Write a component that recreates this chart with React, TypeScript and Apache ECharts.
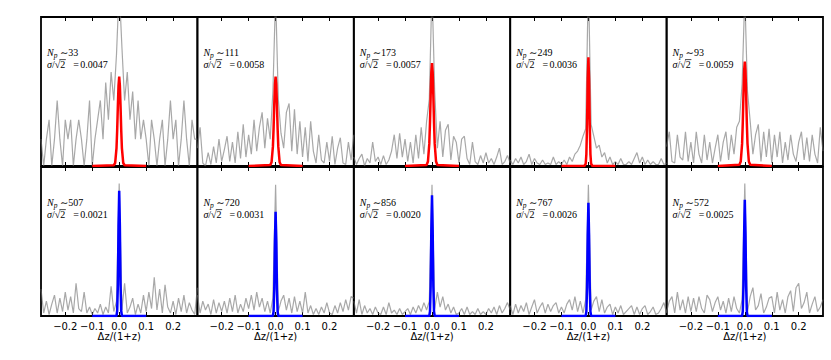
import React, { useEffect, useRef } from "react";
import * as echarts from "echarts";

// bin centres of the histograms (Δz/(1+z))
const BINS = [
  -0.29, -0.28, -0.27, -0.26, -0.25, -0.24, -0.23, -0.22, -0.21, -0.2,
  -0.19, -0.18, -0.17, -0.16, -0.15, -0.14, -0.13, -0.12, -0.11, -0.1,
  -0.09, -0.08, -0.07, -0.06, -0.05, -0.04, -0.03, -0.02, -0.01,
  0,
  0.01, 0.02, 0.03, 0.04, 0.05, 0.06, 0.07, 0.08, 0.09,
  0.1, 0.11, 0.12, 0.13, 0.14, 0.15, 0.16, 0.17, 0.18, 0.19,
  0.2, 0.21, 0.22, 0.23, 0.24, 0.25, 0.26, 0.27, 0.28, 0.29,
];

const TICKS = [-0.2, -0.1, 0, 0.1, 0.2];

// normalised histograms (fraction of panel height)
const GRAY_T1 = [
  0.18, 0, 0.18, 0.31, 0, 0.18, 0.44, 0.18, 0, 0.31,
  0.18, 0.31, 0, 0.18, 0.31, 0.18, 0, 0.18, 0.44, 0,
  0.18, 0.31, 0.44, 0.18, 0.56, 0.31, 0.63, 0.44, 0.75,
  1.2,
  0.8, 0.44, 0.63, 0.31, 0.5, 0.18, 0.44, 0.18, 0.31,
  0.18, 0, 0.31, 0.18, 0, 0.18, 0.31, 0, 0.18, 0.44,
  0.18, 0.31, 0, 0.18, 0.44, 0.18, 0, 0.31, 0.18, 0.18,
];
const GRAY_T2 = [
  0.12, 0.26, 0.02, 0, 0.09, 0.01, 0.13, 0.02, 0.18, 0.03,
  0.11, 0.2, 0.03, 0.16, 0.02, 0.23, 0.05, 0.28, 0.06, 0.21,
  0.08, 0.31, 0.1, 0.26, 0.36, 0.12, 0.32, 0.18, 0.5,
  1.15,
  0.45, 0.22, 0.12, 0.36, 0.42, 0.1, 0.38, 0.08, 0.3,
  0.06, 0.26, 0.03, 0.3, 0.1, 0.02, 0.21, 0.04, 0.02, 0.16,
  0.03, 0.2, 0.01, 0.12, 0.19, 0.02, 0.01, 0.16, 0.04, 0.21,
];
const GRAY_T3 = [
  0.06, 0.01, 0.05, 0.08, 0, 0.05, 0.02, 0.16, 0.03, 0.06,
  0.01, 0.07, 0.01, 0.04, 0.1, 0.21, 0.05, 0.22, 0.06, 0.18,
  0.03, 0.16, 0.02, 0.21, 0.05, 0.26, 0.08, 0.3, 0.45,
  1.2,
  0.5, 0.12, 0.3, 0.06, 0.24, 0.28, 0.04, 0.2, 0.16,
  0.02, 0.18, 0.2, 0.05, 0.01, 0.16, 0.03, 0.01, 0.07, 0.02,
  0.09, 0.02, 0.05, 0.01, 0.06, 0.12, 0.01, 0.03, 0.07, 0.02,
];
const GRAY_T4 = [
  0.04, 0.01, 0.05, 0.02, 0.06, 0.01, 0.03, 0.08, 0.01, 0.05,
  0.02, 0.01, 0.04, 0.01, 0.02, 0.01, 0.06, 0.01, 0.03, 0.01,
  0.04, 0.01, 0.06, 0.03, 0.08, 0.1, 0.14, 0.2, 0.25,
  1.25,
  0.28, 0.2, 0.12, 0.14, 0.06, 0.09, 0.02, 0.06, 0.01,
  0.03, 0.01, 0.05, 0.01, 0.01, 0.03, 0.01, 0.05, 0.09, 0.02,
  0.06, 0.01, 0.04, 0.01, 0.03, 0.01, 0.01, 0.05, 0.01, 0.02,
];
const GRAY_T5 = [
  0.13, 0.23, 0.03, 0.02, 0.21, 0.06, 0.04, 0.23, 0.03, 0.16,
  0.02, 0.23, 0.08, 0.02, 0.21, 0.04, 0.16, 0.02, 0.12, 0.21,
  0.03, 0.16, 0.23, 0.04, 0.21, 0.08, 0.26, 0.3, 0.55,
  1.15,
  0.5, 0.3, 0.08, 0.21, 0.28, 0.03, 0.23, 0.06, 0.25,
  0.02, 0.21, 0.06, 0.23, 0.02, 0.16, 0.04, 0.21, 0.08, 0.03,
  0.16, 0.23, 0.04, 0.19, 0.03, 0.21, 0.08, 0.02, 0.26, 0.1,
];
const GRAY_B1 = [
  0.18, 0.02, 0.1, 0.01, 0.08, 0.14, 0.02, 0.12, 0.03, 0.16,
  0.04, 0.13, 0.02, 0.22, 0.05, 0.03, 0.16, 0.02, 0.06, 0.01,
  0.05, 0.02, 0.08, 0.01, 0.06, 0.02, 0.2, 0.03, 0.1,
  0.89,
  0.04, 0.22, 0.02, 0.06, 0.12, 0.01, 0.08, 0.02, 0.14,
  0.03, 0.16, 0.05, 0.26, 0.04, 0.18, 0.02, 0.21, 0.06, 0.02,
  0.1, 0.01, 0.12, 0.03, 0.14, 0.02, 0.09, 0.04, 0.01, 0.19,
];
const GRAY_B2 = [
  0.14, 0.02, 0.1, 0.04, 0.08, 0.01, 0.11, 0.02, 0.09, 0.03,
  0.1, 0.02, 0.12, 0.03, 0.14, 0.02, 0.08, 0.03, 0.12, 0.05,
  0.14, 0.04, 0.16, 0.06, 0.12, 0.03, 0.1, 0.02, 0.12,
  0.88,
  0.03, 0.1, 0.14, 0.04, 0.12, 0.02, 0.13, 0.03, 0.1,
  0.02, 0.16, 0.02, 0.07, 0.01, 0.05, 0.01, 0.06, 0.02, 0.09,
  0.02, 0.01, 0.07, 0.02, 0.09, 0.03, 0.11, 0.04, 0.13, 0.12,
];
const GRAY_B3 = [
  0.1, 0.02, 0.11, 0.01, 0.07, 0.02, 0.05, 0.01, 0.06, 0.02,
  0.01, 0.06, 0.01, 0.09, 0.02, 0.04, 0.01, 0.05, 0.01, 0.03,
  0.05, 0.01, 0.06, 0.02, 0.07, 0.03, 0.09, 0.04, 0.1,
  0.88,
  0.05, 0.16, 0.06, 0.13, 0.04, 0.08, 0.02, 0.06, 0.01,
  0.02, 0.05, 0.01, 0.06, 0.01, 0.03, 0.01, 0.05, 0.01, 0.03,
  0.01, 0.05, 0.02, 0.06, 0.01, 0.07, 0.02, 0.05, 0.09, 0.04,
];
const GRAY_B4 = [
  0.07, 0.01, 0.08, 0.02, 0.07, 0.03, 0.09, 0.01, 0.06, 0.11,
  0.02, 0.06, 0.09, 0.02, 0.08, 0.03, 0.07, 0.09, 0.02, 0.06,
  0.02, 0.08, 0.11, 0.04, 0.13, 0.03, 0.1, 0.02, 0.11,
  0.88,
  0.04, 0.1, 0.13, 0.03, 0.11, 0.02, 0.06, 0.08, 0.01,
  0.06, 0.02, 0.07, 0.01, 0.03, 0.05, 0.07, 0.01, 0.06, 0.01,
  0.05, 0.07, 0.01, 0.03, 0.06, 0.01, 0.02, 0.05, 0.09, 0.02,
];
const GRAY_B5 = [
  0.03, 0.1, 0.13, 0.02, 0.16, 0.04, 0.11, 0.02, 0.13, 0.03,
  0.12, 0.03, 0.13, 0.05, 0.02, 0.14, 0.11, 0.03, 0.09, 0.13,
  0.04, 0.1, 0.02, 0.12, 0.03, 0.13, 0.05, 0.02, 0.11,
  0.89,
  0.03, 0.13, 0.19, 0.04, 0.07, 0.15, 0.02, 0.06, 0.12,
  0.13, 0.02, 0.16, 0.04, 0.11, 0.02, 0.13, 0.17, 0.03, 0.19,
  0.22, 0.05, 0.09, 0.16, 0.02, 0.08, 0.13, 0.03, 0.06, 0.11,
];

const FIT_X = [-0.1, -0.02, -0.015, -0.01, -0.0075, -0.005, -0.0025, 0, 0.0025, 0.005, 0.0075, 0.01, 0.015, 0.02, 0.1];
const FIT_T1 = [0, 0.005, 0.02, 0.12, 0.24, 0.4, 0.54, 0.6, 0.54, 0.4, 0.24, 0.12, 0.02, 0.005, 0];
const FIT_T2 = [0, 0.006, 0.025, 0.13, 0.25, 0.41, 0.55, 0.6, 0.55, 0.41, 0.25, 0.13, 0.025, 0.006, 0];
const FIT_T3 = [0, 0.007, 0.03, 0.15, 0.29, 0.47, 0.63, 0.69, 0.63, 0.47, 0.29, 0.15, 0.03, 0.007, 0];
const FIT_T4 = [0, 0, 0, 0.015, 0.08, 0.28, 0.58, 0.73, 0.58, 0.28, 0.08, 0.015, 0, 0, 0];
const FIT_T5 = [0, 0.008, 0.03, 0.15, 0.29, 0.48, 0.64, 0.7, 0.64, 0.48, 0.29, 0.15, 0.03, 0.008, 0];
const FIT_B1 = [0, 0, 0, 0, 0.035, 0.21, 0.6, 0.84, 0.6, 0.21, 0.035, 0, 0, 0, 0];
const FIT_B2 = [0, 0, 0, 0, 0.03, 0.18, 0.5, 0.7, 0.5, 0.18, 0.03, 0, 0, 0, 0];
const FIT_B3 = [0, 0, 0, 0, 0.03, 0.2, 0.57, 0.81, 0.57, 0.2, 0.03, 0, 0, 0, 0];
const FIT_B4 = [0, 0, 0, 0, 0.03, 0.19, 0.54, 0.76, 0.54, 0.19, 0.03, 0, 0, 0, 0];
const FIT_B5 = [0, 0, 0, 0, 0.03, 0.2, 0.55, 0.78, 0.55, 0.2, 0.03, 0, 0, 0, 0];

const NP = ["33", "111", "173", "249", "93", "507", "720", "856", "767", "572"];
const SIGMA = ["0.0047", "0.0058", "0.0057", "0.0036", "0.0059", "0.0021", "0.0031", "0.0020", "0.0026", "0.0025"];

const GRAYS = [GRAY_T1, GRAY_T2, GRAY_T3, GRAY_T4, GRAY_T5, GRAY_B1, GRAY_B2, GRAY_B3, GRAY_B4, GRAY_B5];
const FITS = [FIT_T1, FIT_T2, FIT_T3, FIT_T4, FIT_T5, FIT_B1, FIT_B2, FIT_B3, FIT_B4, FIT_B5];

export default function App() {
  const ref = useRef<HTMLDivElement>(null);
  useEffect(() => {
    if (!ref.current) return;
    const chart = echarts.init(ref.current, null, { renderer: "svg" });
    const X0 = 41;
    const PW = 156.4;
    const PH = 149;
    const TOPS = [17, 167];
    const grid: any[] = [];
    const xAxis: any[] = [];
    const yAxis: any[] = [];
    const series: any[] = [];
    const graphic: any[] = [];
    const serifName = "Liberation Serif";
    const serif = "'Liberation Serif', 'DejaVu Serif', serif";
    const FS = 10;
    const canvas = document.createElement("canvas");
    const ctx = canvas.getContext("2d");
    const measure = (s: string, italic: boolean) => {
      if (!ctx) return s.length * FS * 0.5;
      ctx.font = `${italic ? "italic " : ""}${FS}px '${serifName}'`;
      return ctx.measureText(s).width;
    };
    const fmt = (v: number) => {
      const a = Math.abs(v).toFixed(1);
      return v < -1e-9 ? "\u2212" + a : a;
    };
    for (let idx = 0; idx < 10; idx++) {
      const r = Math.floor(idx / 5);
      const c = idx % 5;
      const left = X0 + c * PW;
      const top = TOPS[r];
      grid.push({
        left,
        top,
        width: PW,
        height: PH,
        show: true,
        borderColor: "#000",
        borderWidth: 1.8,
        backgroundColor: "transparent",
      });
      const base = {
        type: "value",
        gridIndex: idx,
        min: -0.29,
        max: 0.29,
        splitLine: { show: false },
        axisLine: { show: false },
        axisTick: { show: true, inside: true, length: 4, customValues: TICKS, lineStyle: { color: "#000", width: 1 } },
      };
      xAxis.push({
        ...base,
        position: "bottom",
        axisLabel: {
          show: r === 1,
          customValues: TICKS,
          formatter: fmt,
          fontFamily: "'DejaVu Sans', sans-serif",
          fontSize: 10,
          color: "#000",
          margin: 5,
        },
        name: r === 1 ? "\u0394z/(1+z)" : "",
        nameLocation: "middle",
        nameGap: 13,
        nameTextStyle: { fontFamily: "'DejaVu Sans', sans-serif", fontSize: 10, color: "#000" },
      });
      xAxis.push({
        ...base,
        position: "top",
        axisLabel: { show: false },
      });
      yAxis.push({ type: "value", gridIndex: idx, min: 0, max: 1, show: false });
      series.push({
        type: "line",
        xAxisIndex: 2 * idx,
        yAxisIndex: idx,
        data: BINS.map((x, k) => [x, GRAYS[idx][k]]),
        symbol: "none",
        silent: true,
        lineStyle: { color: "rgba(110,110,110,0.6)", width: 1.2 },
        z: 2,
      });
      series.push({
        type: "line",
        xAxisIndex: 2 * idx,
        yAxisIndex: idx,
        data: FIT_X.map((x, k) => [x, FITS[idx][k]]),
        symbol: "none",
        silent: true,
        lineStyle: { color: r === 0 ? "#ff0000" : "#0000ff", width: 2.5 },
        z: 3,
      });
      const tok = { fontFamily: serif, fontSize: FS, fill: "#000", lineHeight: 13 };
      const tx = left + 6;
      graphic.push({
        type: "text",
        x: tx,
        y: top + 35,
        silent: true,
        style: {
          text: `{n|N}{s|p}{t| \u223c${NP[idx]}}`,
          verticalAlign: "middle",
          rich: {
            n: { ...tok, fontStyle: "italic" },
            s: { fontFamily: serif, fontSize: 7.5, fontStyle: "italic", fill: "#000", padding: [6, 0, 0, 0] },
            t: { ...tok },
          },
        },
      });
      const ly = top + 47;
      graphic.push({
        type: "text",
        x: tx,
        y: ly,
        silent: true,
        style: {
          text: `{i|\u03c3}{t|/\u221a2}{g|=}{d|${SIGMA[idx]}}`,
          verticalAlign: "middle",
          rich: {
            i: { ...tok, fontStyle: "italic" },
            t: { ...tok },
            g: { ...tok, padding: [0, 1.5, 0, 8] },
            d: { ...tok, fontSize: 10 },
          },
        },
      });
      const xs = tx + measure("\u03c3", true) + measure("/\u221a", false);
      const xe = xs + measure("2", false);
      graphic.push({
        type: "line",
        silent: true,
        shape: { x1: xs - 0.8, y1: ly - 4.4, x2: xe + 0.6, y2: ly - 4.4 },
        style: { stroke: "#000", lineWidth: 0.7 },
      });
    }
    chart.setOption({
      animation: false,
      backgroundColor: "#fff",
      grid,
      xAxis,
      yAxis,
      series,
      graphic,
    });
    return () => chart.dispose();
  }, []);
  return (
    <div
      ref={ref}
      style={{ position: "fixed", left: 0, top: 0, width: 831, height: 360 }}
    />
  );
}
